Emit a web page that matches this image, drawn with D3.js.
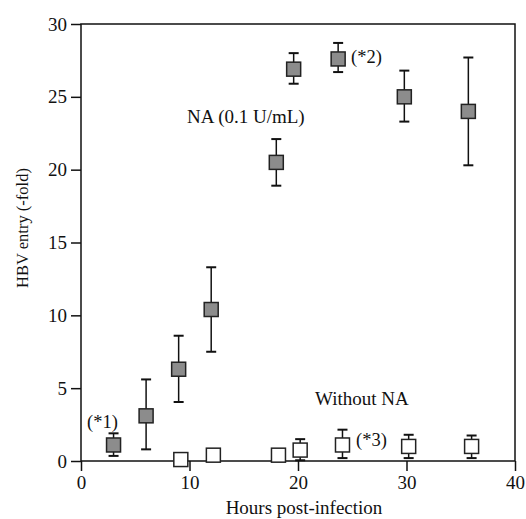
<!DOCTYPE html>
<html>
<head>
<meta charset="utf-8">
<script src="https://cdn.jsdelivr.net/npm/d3@7"></script>
<style>
  body{margin:0;background:#fff}
  text{font-family:"Liberation Serif","Times New Roman",serif;fill:#111}
</style>
</head>
<body>
<svg id="chart" width="526" height="519"></svg>
<script>
//---data---
var naHours=[3,6,9,12,18,19.6,23.7,29.8,35.7]
var naMean=[1.1,3.1,6.3,10.4,20.5,26.9,27.6,25.0,24.0]
var naLow=[0.35,0.8,4.05,7.5,18.9,25.9,26.7,23.3,20.3]
var naHigh=[1.9,5.6,8.6,13.3,22.1,28.0,28.7,26.8,27.7]

var noHours=[9.2,12.2,18.2,20.2,24.1,30.2,36.0]
var noMean=[0.1,0.4,0.4,0.75,1.1,1.0,1.0]
var noLow=[null,null,null,0.05,0.2,0.2,0.2]
var noHigh=[null,null,null,1.5,2.15,1.8,1.75]

var xTicks=[0,10,20,30,40]
var yTicks=[0,5,10,15,20,25,30]

//---layout---  (note: "top" is reserved on window, so use plot* names)
var plotLeft=81, plotRight=515, plotTop=24, plotBottom=461
var svg=d3.select("#chart")

var x=d3.scaleLinear().domain([0,40]).range([plotLeft,plotRight])
var y=d3.scaleLinear().domain([0,30]).range([plotBottom,plotTop])

//---frame---
svg.append("rect")
  .attr("x",plotLeft).attr("y",plotTop)
  .attr("width",plotRight-plotLeft).attr("height",plotBottom-plotTop)
  .attr("fill","none").attr("stroke","#111").attr("stroke-width",1.5)

var xAxis=svg.append("g")
  .attr("transform","translate(0,"+plotBottom+")")
  .call(d3.axisBottom(x).tickValues(xTicks).tickSize(10).tickPadding(5))
xAxis.select(".domain").remove()
xAxis.selectAll("line").attr("stroke","#111").attr("stroke-width",1.5)
xAxis.selectAll("text").attr("font-size",19).attr("fill","#111")
  .style("font-family","Liberation Serif")

var yAxis=svg.append("g")
  .attr("transform","translate("+plotLeft+",0)")
  .call(d3.axisLeft(y).tickValues(yTicks).tickSize(10).tickPadding(4))
yAxis.select(".domain").remove()
yAxis.selectAll("line").attr("stroke","#111").attr("stroke-width",1.5)
yAxis.selectAll("text").attr("font-size",19).attr("fill","#111")
  .style("font-family","Liberation Serif")

//---axis titles---
svg.append("text")
  .attr("x",304).attr("y",514)
  .attr("text-anchor","middle").attr("font-size",19)
  .text("Hours post-infection")

svg.append("text")
  .attr("transform","translate(28,228) rotate(-90)")
  .attr("text-anchor","middle").attr("font-size",16.5)
  .text("HBV entry (-fold)")

//---error bars + markers---
function drawSeries(hours,mean,low,high,fill)
{
  var g=svg.append("g")
  var cap=5
  hours.forEach(function(h,i){
    if(high[i]==null) return
    var cx=x(h)
    g.append("line")
      .attr("x1",cx).attr("x2",cx)
      .attr("y1",y(low[i])).attr("y2",y(high[i]))
      .attr("stroke","#111").attr("stroke-width",1.5)
    ;[low[i],high[i]].forEach(function(v){
      g.append("line")
        .attr("x1",cx-cap).attr("x2",cx+cap)
        .attr("y1",y(v)).attr("y2",y(v))
        .attr("stroke","#111").attr("stroke-width",2)
    })
  })
  var s=14
  g.selectAll("rect.m").data(hours).enter().append("rect")
    .attr("x",function(d){return x(d)-s/2})
    .attr("y",function(d,i){return y(mean[i])-s/2})
    .attr("width",s).attr("height",s)
    .attr("fill",fill).attr("stroke","#222").attr("stroke-width",1.5)
}
drawSeries(naHours,naMean,naLow,naHigh,"#8c8c8c")
drawSeries(noHours,noMean,noLow,noHigh,"#fff")

//---annotations---
svg.append("text").attr("x",187).attr("y",123).attr("font-size",19).text("NA (0.1 U/mL)")
svg.append("text").attr("x",315).attr("y",405).attr("font-size",19).text("Without NA")
svg.append("text").attr("x",87).attr("y",428).attr("font-size",18.5).text("(*1)")
svg.append("text").attr("x",351).attr("y",63).attr("font-size",18.5).text("(*2)")
svg.append("text").attr("x",356).attr("y",446).attr("font-size",18.5).text("(*3)")
</script>
</body>
</html>
